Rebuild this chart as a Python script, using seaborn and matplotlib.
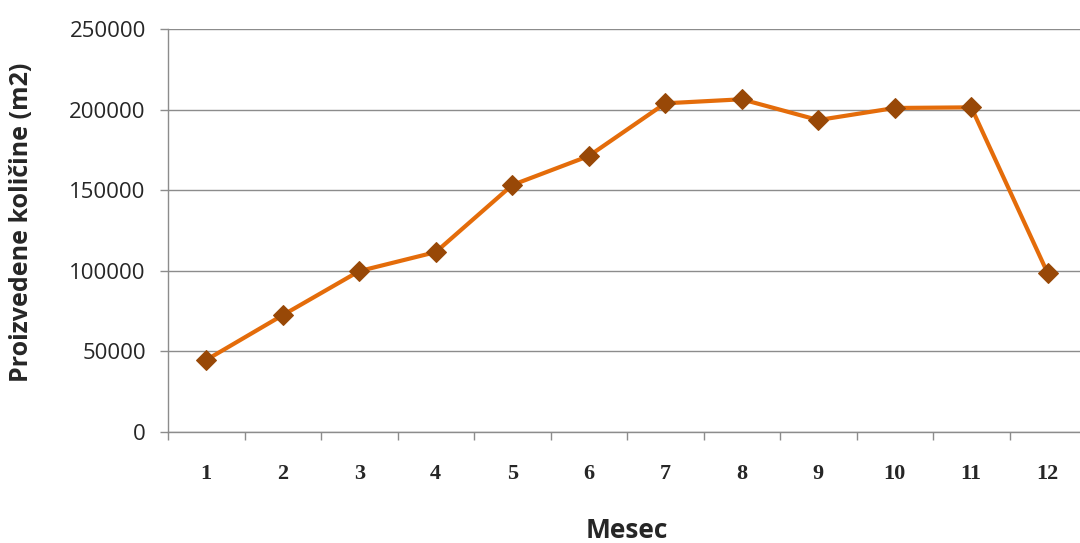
import pandas as pd
import matplotlib.pyplot as plt
import seaborn as sns
import numpy as np

months = ['1', '2', '3', '4', '5', '6', '7', '8', '9', '10', '11', '12']
quantities = [44700, 72500, 99800, 111600, 153200, 171200, 203900, 206400, 193500, 201000, 201400, 98400]

df = pd.DataFrame({'month': months, 'qty': quantities})

sns.set_style('white')
plt.rcParams['font.family'] = ['Open Sans', 'DejaVu Sans']

fig = plt.figure(figsize=(10.8, 5.43), dpi=100)
# axis runs off the right edge in the reference
ax = fig.add_axes([168 / 1080, (543 - 432) / 543, 918 / 1080, 403 / 543])

sns.lineplot(data=df, x='month', y='qty', sort=False, ax=ax,
             color='#E46C0A', linewidth=3, marker='D', markersize=10.5,
             markerfacecolor='#984807', markeredgecolor='#984807', zorder=3)

ax.set_xlim(-0.5, len(months) - 0.5)
ax.set_ylim(0, 250000)
ax.set_yticks(np.arange(0, 250001, 50000))
ax.set_yticklabels([str(v) for v in range(0, 250001, 50000)], fontsize=16)
ax.yaxis.grid(True, color='#8c8c8c', linewidth=1)
ax.set_axisbelow(True)

# ticks between categories, labels centred
ax.set_xticks(np.arange(-0.5, len(months), 1.0))
ax.set_xticklabels([])
ax.set_xticks(np.arange(len(months)), minor=True)
ax.set_xticklabels(months, minor=True, fontsize=16, fontweight='bold',
                   family='Liberation Serif')
ax.tick_params(axis='x', which='minor', bottom=False, length=0, pad=23)
ax.tick_params(axis='x', which='major', bottom=True, length=6, width=1,
               color='#8c8c8c', direction='out')
ax.tick_params(axis='y', left=True, length=6, width=1, color='#8c8c8c',
               direction='out', pad=10)

for side in ['top', 'right']:
    ax.spines[side].set_visible(False)
for side in ['left', 'bottom']:
    ax.spines[side].set_color('#8c8c8c')
    ax.spines[side].set_linewidth(1)

ax.set_xlabel('Mesec', fontsize=19, fontweight='bold')
ax.xaxis.set_label_coords(0.5, -(530 - 432) / 403)
ax.xaxis.label.set_va('center')
ax.set_ylabel('Proizvedene količine (m2)', fontsize=18, fontweight='bold')
ax.yaxis.set_label_coords(-(168 - 22) / 918, (432 - 222) / 403)
ax.yaxis.label.set_va('center')

fig.savefig('out.png', dpi=100)
